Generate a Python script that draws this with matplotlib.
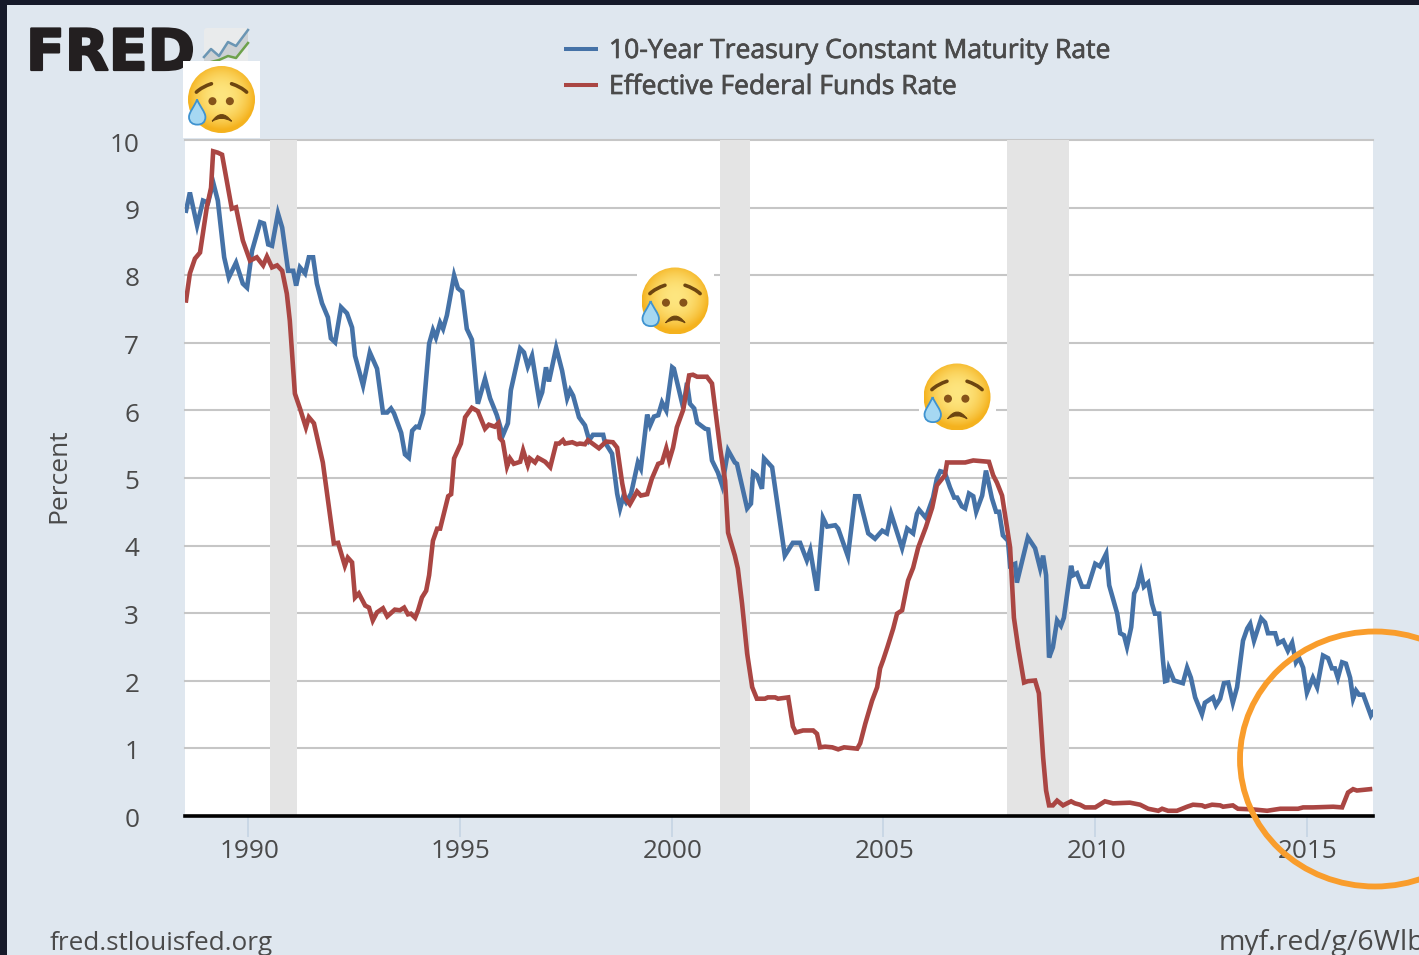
import numpy as np
import matplotlib
matplotlib.use('Agg')
import matplotlib.pyplot as plt
import matplotlib.patheffects as pe
from matplotlib.patches import Circle, Ellipse, Polygon, Rectangle, FancyBboxPatch, PathPatch
from matplotlib.path import Path
from matplotlib.transforms import ScaledTranslation

plt.rcParams['font.family'] = ['Open Sans', 'DejaVu Sans']

# 10-Year Treasury
treasury_dates = [
    1988.53, 1988.62, 1988.79, 1988.93, 1989.05, 1989.17, 1989.28, 1989.43, 1989.54, 1989.71,
    1989.87, 1989.97, 1990.09, 1990.28, 1990.37, 1990.47, 1990.56, 1990.70, 1990.80, 1990.94,
    1991.06, 1991.13, 1991.22, 1991.34, 1991.43, 1991.53, 1991.62, 1991.74, 1991.88, 1991.95,
    1992.05, 1992.19, 1992.33, 1992.45, 1992.52, 1992.71, 1992.87, 1993.04, 1993.18, 1993.28,
    1993.37, 1993.44, 1993.61, 1993.70, 1993.79, 1993.87, 1993.96, 1994.03, 1994.13, 1994.27,
    1994.36, 1994.43, 1994.53, 1994.60, 1994.69, 1994.86, 1994.95, 1995.05, 1995.16, 1995.28,
    1995.42, 1995.59, 1995.71, 1995.87, 1996.01, 1996.13, 1996.20, 1996.42, 1996.51, 1996.60,
    1996.70, 1996.87, 1996.94, 1997.03, 1997.10, 1997.27, 1997.41, 1997.53, 1997.60, 1997.67,
    1997.81, 1997.95, 1998.05, 1998.14, 1998.38, 1998.42, 1998.59, 1998.71, 1998.78, 1998.85,
    1998.92, 1999.04, 1999.20, 1999.27, 1999.42, 1999.49, 1999.58, 1999.68, 1999.77, 1999.87,
    2000.01, 2000.05, 2000.27, 2000.36, 2000.43, 2000.53, 2000.60, 2000.79, 2000.86, 2000.95,
    2001.09, 2001.19, 2001.33, 2001.49, 2001.54, 2001.78, 2001.87, 2001.92, 2002.01, 2002.13,
    2002.18, 2002.37, 2002.67, 2002.86, 2003.03, 2003.19, 2003.27, 2003.43, 2003.57, 2003.67,
    2003.86, 2003.93, 2004.16, 2004.33, 2004.42, 2004.64, 2004.80, 2004.97, 2005.08, 2005.18,
    2005.44, 2005.56, 2005.70, 2005.79, 2005.84, 2006.00, 2006.17, 2006.26, 2006.34, 2006.45,
    2006.57, 2006.67, 2006.74, 2006.85, 2006.93, 2007.02, 2007.12, 2007.19, 2007.33, 2007.42,
    2007.56, 2007.66, 2007.73, 2007.82, 2007.94, 2007.99, 2008.11, 2008.15, 2008.41, 2008.58,
    2008.70, 2008.77, 2008.84, 2008.91, 2009.00, 2009.10, 2009.19, 2009.26, 2009.43, 2009.48,
    2009.57, 2009.69, 2009.83, 2010.00, 2010.11, 2010.26, 2010.33, 2010.52, 2010.59, 2010.68,
    2010.75, 2010.85, 2010.92, 2010.99, 2011.08, 2011.15, 2011.25, 2011.34, 2011.41, 2011.51,
    2011.60, 2011.65, 2011.70, 2011.74, 2011.86, 2012.07, 2012.17, 2012.26, 2012.36, 2012.52,
    2012.59, 2012.78, 2012.85, 2012.95, 2013.04, 2013.14, 2013.25, 2013.35, 2013.49, 2013.59,
    2013.66, 2013.75, 2013.92, 2014.01, 2014.08, 2014.25, 2014.32, 2014.44, 2014.55, 2014.65,
    2014.74, 2014.81, 2014.91, 2015.00, 2015.14, 2015.24, 2015.38, 2015.50, 2015.59, 2015.66,
    2015.73, 2015.83, 2015.92, 2016.02, 2016.09, 2016.16, 2016.23, 2016.33, 2016.51, 2016.56,
]
treasury_rate = [
    8.96, 9.23, 8.74, 9.11, 9.08, 9.38, 9.11, 8.27, 7.97, 8.19,
    7.88, 7.82, 8.37, 8.79, 8.77, 8.46, 8.44, 8.92, 8.71, 8.07,
    8.07, 7.85, 8.12, 8.03, 8.27, 8.27, 7.88, 7.59, 7.38, 7.07,
    7.01, 7.53, 7.44, 7.23, 6.81, 6.37, 6.86, 6.62, 5.97, 5.97,
    6.03, 5.96, 5.67, 5.35, 5.30, 5.70, 5.76, 5.75, 5.96, 6.99,
    7.19, 7.08, 7.30, 7.21, 7.41, 8.00, 7.81, 7.76, 7.21, 7.05,
    6.10, 6.47, 6.18, 5.93, 5.63, 5.81, 6.30, 6.92, 6.86, 6.65,
    6.81, 6.15, 6.27, 6.64, 6.43, 6.93, 6.59, 6.18, 6.30, 6.22,
    5.90, 5.78, 5.56, 5.64, 5.64, 5.53, 5.36, 4.77, 4.55, 4.71,
    4.64, 4.77, 5.23, 5.14, 5.94, 5.78, 5.91, 5.93, 6.12, 6.00,
    6.64, 6.62, 6.04, 6.41, 6.10, 6.03, 5.82, 5.73, 5.72, 5.26,
    5.08, 4.89, 5.41, 5.23, 5.21, 4.55, 4.62, 5.08, 5.04, 4.84,
    5.29, 5.16, 3.85, 4.04, 4.04, 3.78, 3.93, 3.33, 4.41, 4.28,
    4.30, 4.25, 3.84, 4.73, 4.73, 4.18, 4.10, 4.22, 4.18, 4.47,
    3.96, 4.25, 4.18, 4.47, 4.53, 4.41, 4.71, 4.99, 5.10, 5.08,
    4.86, 4.71, 4.71, 4.58, 4.55, 4.77, 4.73, 4.50, 4.74, 5.11,
    4.70, 4.50, 4.50, 4.15, 4.07, 3.70, 3.73, 3.45, 4.12, 3.96,
    3.66, 3.85, 3.56, 2.34, 2.49, 2.89, 2.81, 2.93, 3.70, 3.56,
    3.59, 3.39, 3.39, 3.73, 3.69, 3.88, 3.41, 2.99, 2.70, 2.67,
    2.50, 2.79, 3.29, 3.38, 3.60, 3.39, 3.45, 3.14, 2.99, 2.99,
    2.30, 1.99, 2.00, 2.18, 2.00, 1.96, 2.19, 2.04, 1.75, 1.50,
    1.67, 1.75, 1.63, 1.73, 1.96, 1.97, 1.67, 1.90, 2.59, 2.77,
    2.84, 2.59, 2.92, 2.86, 2.70, 2.70, 2.55, 2.59, 2.44, 2.56,
    2.27, 2.34, 2.19, 1.82, 2.04, 1.90, 2.37, 2.33, 2.18, 2.18,
    2.04, 2.27, 2.25, 2.04, 1.73, 1.85, 1.79, 1.79, 1.48, 1.53,
]

# Effective Federal Funds
funds_dates = [
    1988.53, 1988.62, 1988.74, 1988.86, 1989.02, 1989.12, 1989.17, 1989.28, 1989.38, 1989.61,
    1989.71, 1989.87, 1990.04, 1990.20, 1990.35, 1990.44, 1990.56, 1990.68, 1990.80, 1990.91,
    1990.98, 1991.10, 1991.22, 1991.36, 1991.43, 1991.55, 1991.76, 1992.02, 1992.12, 1992.28,
    1992.35, 1992.45, 1992.52, 1992.61, 1992.76, 1992.85, 1992.94, 1993.04, 1993.18, 1993.28,
    1993.46, 1993.58, 1993.68, 1993.77, 1993.84, 1993.94, 1994.01, 1994.10, 1994.20, 1994.27,
    1994.36, 1994.46, 1994.53, 1994.72, 1994.79, 1994.86, 1995.02, 1995.12, 1995.28, 1995.42,
    1995.59, 1995.68, 1995.82, 1995.90, 1995.94, 1996.01, 1996.11, 1996.18, 1996.27, 1996.42,
    1996.49, 1996.60, 1996.65, 1996.77, 1996.84, 1997.01, 1997.13, 1997.27, 1997.34, 1997.43,
    1997.48, 1997.65, 1997.76, 1997.83, 1997.95, 1998.02, 1998.28, 1998.45, 1998.61, 1998.71,
    1998.83, 1998.90, 1999.01, 1999.18, 1999.27, 1999.42, 1999.53, 1999.68, 1999.77, 1999.87,
    1999.94, 2000.03, 2000.12, 2000.27, 2000.41, 2000.50, 2000.60, 2000.83, 2000.95, 2001.14,
    2001.26, 2001.33, 2001.49, 2001.56, 2001.66, 2001.78, 2001.90, 2002.01, 2002.20, 2002.27,
    2002.44, 2002.51, 2002.75, 2002.86, 2002.93, 2003.10, 2003.34, 2003.43, 2003.50, 2003.62,
    2003.79, 2003.93, 2004.07, 2004.38, 2004.45, 2004.57, 2004.73, 2004.85, 2004.92, 2004.99,
    2005.09, 2005.23, 2005.32, 2005.44, 2005.58, 2005.70, 2005.82, 2006.00, 2006.15, 2006.26,
    2006.45, 2006.50, 2006.93, 2007.12, 2007.49, 2007.59, 2007.68, 2007.80, 2007.99, 2008.08,
    2008.18, 2008.32, 2008.41, 2008.58, 2008.67, 2008.77, 2008.84, 2008.91, 2009.00, 2009.10,
    2009.24, 2009.43, 2009.52, 2009.64, 2009.76, 2010.00, 2010.23, 2010.42, 2010.82, 2011.06,
    2011.25, 2011.49, 2011.58, 2011.72, 2011.93, 2012.17, 2012.31, 2012.52, 2012.59, 2012.76,
    2012.95, 2013.02, 2013.25, 2013.37, 2013.73, 2014.06, 2014.37, 2014.79, 2014.91, 2015.14,
    2015.62, 2015.83, 2015.97, 2016.09, 2016.18, 2016.49,
]
funds_rate = [
    7.63, 8.03, 8.25, 8.34, 9.01, 9.30, 9.84, 9.82, 9.79, 8.99,
    9.01, 8.52, 8.22, 8.27, 8.15, 8.28, 8.12, 8.15, 8.07, 7.73,
    7.33, 6.25, 6.03, 5.75, 5.90, 5.81, 5.23, 4.03, 4.04, 3.70,
    3.82, 3.75, 3.23, 3.29, 3.11, 3.08, 2.89, 3.01, 3.07, 2.95,
    3.05, 3.04, 3.08, 2.98, 2.99, 2.93, 3.04, 3.23, 3.33, 3.56,
    4.07, 4.25, 4.25, 4.73, 4.76, 5.29, 5.51, 5.90, 6.04, 5.99,
    5.73, 5.79, 5.76, 5.81, 5.59, 5.54, 5.17, 5.29, 5.21, 5.24,
    5.41, 5.19, 5.29, 5.23, 5.30, 5.24, 5.16, 5.51, 5.51, 5.56,
    5.51, 5.53, 5.50, 5.51, 5.50, 5.56, 5.44, 5.54, 5.53, 5.45,
    4.92, 4.70, 4.61, 4.80, 4.74, 4.76, 4.99, 5.21, 5.23, 5.44,
    5.26, 5.45, 5.75, 6.01, 6.52, 6.53, 6.50, 6.50, 6.40, 5.45,
    4.96, 4.19, 3.85, 3.66, 3.14, 2.40, 1.90, 1.73, 1.73, 1.75,
    1.75, 1.73, 1.75, 1.32, 1.23, 1.26, 1.26, 1.21, 1.01, 1.02,
    1.01, 0.98, 1.01, 0.99, 1.07, 1.36, 1.70, 1.90, 2.18, 2.30,
    2.49, 2.77, 2.99, 3.04, 3.48, 3.67, 3.97, 4.27, 4.56, 4.89,
    5.04, 5.23, 5.23, 5.26, 5.24, 5.04, 4.93, 4.74, 3.97, 2.93,
    2.49, 1.97, 1.99, 2.00, 1.81, 0.86, 0.37, 0.15, 0.15, 0.22,
    0.15, 0.21, 0.18, 0.16, 0.12, 0.12, 0.21, 0.18, 0.19, 0.16,
    0.10, 0.07, 0.10, 0.07, 0.07, 0.13, 0.16, 0.15, 0.13, 0.16,
    0.15, 0.13, 0.15, 0.10, 0.09, 0.07, 0.10, 0.10, 0.12, 0.12,
    0.13, 0.12, 0.34, 0.39, 0.37, 0.39,
]

recession_starts = [1990.51, 2001.14, 2007.92]
recession_ends = [1991.16, 2001.85, 2009.37]

year_ticks = [1990, 1995, 2000, 2005, 2010, 2015]
percent_ticks = list(range(0, 11))

series_names = ['10-Year Treasury Constant Maturity Rate', 'Effective Federal Funds Rate']

WIDTH = 1419
HEIGHT = 955
BACK = '#dfe7ef'
BLUE = '#4572a7'
RED = '#aa4643'
TEXT = '#4a4a4a'


def draw_emoji(over, cx, cy, r=33.5):
    # white box behind the pasted emoji
    box = 38.5
    over.add_patch(Rectangle((cx - box, cy - box), box * 2, box * 2, fc='white', ec='none', zorder=5))

    # pale in the middle, orange towards the rim
    ys, xs = np.mgrid[-1:1:128j, -1:1:128j]
    d = np.clip(np.sqrt(xs ** 2 + (ys + 0.1) ** 2), 0, 1)[..., None] ** 2.2
    pale = np.array([0.995, 0.90, 0.50]).reshape(1, 1, 3)
    rim = np.array([0.96, 0.70, 0.12]).reshape(1, 1, 3)
    img = over.imshow(pale * (1 - d) + rim * d, extent=(cx - r, cx + r, cy + r, cy - r),
                      aspect='auto', zorder=6, interpolation='bilinear')
    img.set_clip_path(Circle((cx, cy), r, transform=over.transData))

    u = r / 100
    brown = '#6d4510'
    # brows
    for a, b, c in [((-75, -22), (-58, -38), (-30, -47)), ((75, -22), (58, -38), (30, -47))]:
        path = Path([(cx + a[0] * u, cy + a[1] * u), (cx + b[0] * u, cy + b[1] * u), (cx + c[0] * u, cy + c[1] * u)],
                    [Path.MOVETO, Path.CURVE3, Path.CURVE3])
        over.add_patch(PathPatch(path, fc='none', ec=brown, lw=2.6, capstyle='round', zorder=8))
    # eyes
    over.add_patch(Circle((cx - 27 * u, cy + 5 * u), 12 * u, fc='#86531a', ec='none', zorder=8))
    over.add_patch(Circle((cx + 25 * u, cy + 5 * u), 12 * u, fc='#86531a', ec='none', zorder=8))
    # mouth
    mouth = Path([(cx - 28 * u, cy + 65 * u), (cx, cy + 25 * u), (cx + 30 * u, cy + 65 * u),
                  (cx, cy + 47 * u), (cx - 28 * u, cy + 65 * u)],
                 [Path.MOVETO, Path.CURVE3, Path.CURVE3, Path.CURVE3, Path.CURVE3])
    over.add_patch(PathPatch(mouth, fc=brown, ec=brown, lw=0.8, zorder=8))
    # tear
    tear_points = [(-73, 0), (-80, 20), (-97, 38), (-97, 52), (-97, 68), (-86, 75), (-72, 75),
                   (-58, 75), (-48, 68), (-48, 52), (-48, 38), (-65, 20), (-73, 0)]
    tear = Path([(cx + p[0] * u, cy + p[1] * u) for p in tear_points], [Path.MOVETO] + [Path.CURVE4] * 12)
    over.add_patch(PathPatch(tear, fc='#a6d8f2', ec='#3f93d0', lw=1.3, zorder=9))


def draw_logo(over):
    over.text(26, 70, 'FRED', fontsize=41, fontweight='bold', family=['DejaVu Sans'], color='#231f20',
              ha='left', va='baseline', zorder=4,
              path_effects=[pe.withStroke(linewidth=1.6, foreground='#231f20')])

    # little chart icon
    over.add_patch(FancyBboxPatch((204, 28), 44, 42, boxstyle='round,pad=0,rounding_size=3',
                                  fc='#e9ebec', ec='none', zorder=2))
    line_x = [204, 211, 219, 228, 236, 248]
    blue_y = [57, 49, 56, 42, 46, 30]
    green_y = [66, 62, 60, 56, 58, 43]
    over.add_patch(Polygon(list(zip(line_x, blue_y)) + list(zip(line_x[::-1], green_y[::-1])),
                           fc='#cdd1d4', ec='none', zorder=2.5))
    over.plot(line_x, blue_y, color='#6b96b4', lw=1.8, zorder=3)
    over.plot(line_x, green_y, color='#6da14b', lw=1.8, zorder=3)


def main():
    fig = plt.figure(figsize=(WIDTH / 100, HEIGHT / 100), dpi=100, facecolor=BACK)

    ax = fig.add_axes([185 / WIDTH, 1 - 815.5 / HEIGHT, (1373 - 185) / WIDTH, (815.5 - 140.5) / HEIGHT])
    ax.set_facecolor('white')
    ax.set_xlim(1988.505, 2016.56)
    ax.set_ylim(0, 10)

    for start, end in zip(recession_starts, recession_ends):
        ax.axvspan(start, end, color='#e4e4e4', lw=0, zorder=1)

    ax.set_yticks(percent_ticks)
    ax.set_xticks(year_ticks)
    ax.grid(axis='y', color='#c6c6c6', lw=1.5, zorder=2)
    ax.set_axisbelow(True)
    for line in ax.get_ygridlines():
        line.set_clip_on(False)

    ax.plot(treasury_dates, treasury_rate, color=BLUE, lw=3.3, solid_joinstyle='miter', zorder=3)
    ax.plot(funds_dates, funds_rate, color=RED, lw=3.3, solid_joinstyle='miter', zorder=4)

    for side in ['top', 'left', 'right']:
        ax.spines[side].set_visible(False)
    ax.spines['bottom'].set_linewidth(2.6)
    ax.spines['bottom'].set_color('black')
    ax.spines['bottom'].set_zorder(5)

    ax.tick_params(axis='y', length=0, pad=33, labelsize=18.8, labelcolor=TEXT)
    ax.tick_params(axis='x', length=15, width=1.1, color='#c3d3e2', pad=2, labelsize=18.8, labelcolor=TEXT)

    # labels sit a little off the gridlines and ticks in the screenshot
    for label in ax.get_yticklabels():
        label.set_transform(label.get_transform() + ScaledTranslation(0, -1.5 / 100, fig.dpi_scale_trans))
    for label in ax.get_xticklabels():
        label.set_transform(label.get_transform() + ScaledTranslation(1 / 100, 0, fig.dpi_scale_trans))

    ax.set_ylabel('Percent', fontsize=19, color=TEXT)
    ax.yaxis.set_label_coords((71 - 185) / (1373 - 185), (815.5 - 476) / 675)

    # everything pasted on top uses picture pixels
    over = fig.add_axes([0, 0, 1, 1], facecolor='none', zorder=10)
    over.set_axis_off()

    draw_logo(over)
    draw_emoji(over, 221.5, 99.5)
    draw_emoji(over, 675, 301)
    draw_emoji(over, 957, 397)

    # legend
    for y, color, name in zip([49, 85], [BLUE, RED], series_names):
        over.plot([564, 598], [y, y], color=color, lw=2.9, solid_capstyle='butt', zorder=4)
        over.text(609, y + 2, name, fontsize=19.1, color=TEXT, ha='left', va='center', zorder=4,
                  path_effects=[pe.withStroke(linewidth=0.5, foreground=TEXT)])

    # footer
    over.text(50, 950, 'fred.stlouisfed.org', fontsize=18.85, color=TEXT, ha='left', va='baseline')
    over.text(1219, 950, 'myf.red/g/6Wlb', fontsize=20.5, color=TEXT, ha='left', va='baseline', clip_on=True)

    # orange ring
    over.add_patch(Ellipse((1375, 759), 270, 255, fc='none', ec='#f99d2c', lw=4.2, zorder=12))

    # dark edge of the screenshot
    over.add_patch(Rectangle((0, 0), WIDTH, 5, fc='#161a2a', ec='none', zorder=20))
    over.add_patch(Rectangle((0, 0), 7, HEIGHT, fc='#161a2a', ec='none', zorder=20))

    over.set_xlim(0, WIDTH)
    over.set_ylim(HEIGHT, 0)

    fig.savefig('out.png', dpi=100, facecolor=BACK)


if __name__ == '__main__':
    main()
